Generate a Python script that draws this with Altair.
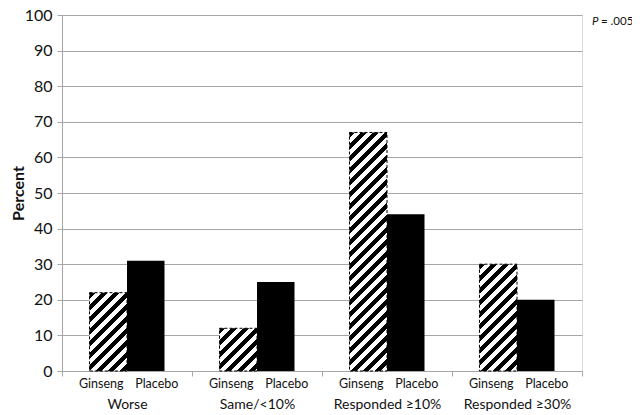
import altair as alt
import pandas as pd

# ---- data ----
groups = ["Worse", "Same/<10%", "Responded ≥10%", "Responded ≥30%"]
series = ["Ginseng", "Placebo"]
ginseng = [22, 12, 67, 30]
placebo = [31, 25, 44, 20]
y_ticks = [0, 10, 20, 30, 40, 50, 60, 70, 80, 90, 100]
p_italic = ["P"]
p_rest = ["= .005"]

rows = []
for g, a, b in zip(groups, ginseng, placebo):
    rows.append({"group": g, "series": "Ginseng", "value": a})
    rows.append({"group": g, "series": "Placebo", "value": b})
df = pd.DataFrame(rows)

# ---- style ----
W, H = 520, 356
FONT = "Lato"
STEP = W / len(groups)
PAD_OUT = 0.733
BAR_W = STEP / (2 + 2 * PAD_OUT)
PERIOD = 12.0
BLACK_FRAC = 0.5
AXIS_GRAY = "#a6a6a6"


def stripes(v):
    """Diagonal '/' hatch as a hard-stop linear gradient in bbox units."""
    h = v / 100 * H
    span = BAR_W + h
    n = span / PERIOD
    s = span / (BAR_W ** 2 + h ** 2)
    stops = []
    k = 0
    while k < n:
        t0 = min(k / n, 1)
        t1 = min((k + BLACK_FRAC) / n, 1)
        t2 = min((k + 1) / n, 1)
        stops += [(t0, "black"), (t1, "black"), (t1, "white"), (t2, "white")]
        k += 1
    return alt.LinearGradient(
        gradient="linear", x1=0, y1=0, x2=s * BAR_W, y2=s * h,
        stops=[alt.GradientStop(offset=o, color=c) for o, c in stops],
    )


x_enc = alt.X(
    "group:N", sort=groups,
    scale=alt.Scale(domain=groups, paddingInner=0, paddingOuter=0),
    axis=alt.Axis(
        title=None, grid=False, tickBand="extent", ticks=True, tickSize=5,
        tickColor=AXIS_GRAY, domainColor=AXIS_GRAY, labelFont=FONT,
        labelFontSize=14, labelColor="#111", labelPadding=28,
        labelBaseline="middle", labelAngle=0,
    ),
)
xo_enc = alt.XOffset(
    "series:N", sort=series,
    scale=alt.Scale(domain=series, paddingInner=0, paddingOuter=PAD_OUT),
)
y_enc = alt.Y(
    "value:Q",
    scale=alt.Scale(domain=[0, 100], nice=False),
    axis=alt.Axis(
        values=y_ticks, title="Percent", grid=True, gridColor=AXIS_GRAY,
        domainColor=AXIS_GRAY, tickColor=AXIS_GRAY, tickSize=5,
        labelFont=FONT, labelFontSize=16, labelColor="#111", labelPadding=5,
        titleFont=FONT, titleFontSize=16, titleFontWeight="bold",
        titleColor="#111", titleX=-44, titleY=H / 2, titleBaseline="middle",
        titleAngle=270,
    ),
)

base = alt.Chart(df).encode(x=x_enc, xOffset=xo_enc, y=y_enc)

layers = [
    base.mark_bar(fill="black").transform_filter(alt.datum.series == "Placebo")
]
for g, v in zip(groups, ginseng):
    layers.append(
        base.mark_bar(
            fill=stripes(v), stroke="black", strokeDash=[3, 2], strokeWidth=1
        ).transform_filter(
            (alt.datum.series == "Ginseng") & (alt.datum.group == g)
        )
    )

for sname, dx in [("Ginseng", -7), ("Placebo", 11)]:
    layers.append(
        alt.Chart(df).mark_text(
            font=FONT, fontSize=12.5, color="#111", dx=dx, baseline="middle"
        ).encode(
            x=x_enc, xOffset=xo_enc, y=alt.value(H + 13), text="series:N"
        ).transform_filter(alt.datum.series == sname)
    )

pdf1 = pd.DataFrame({"t": p_italic})
pdf2 = pd.DataFrame({"t": p_rest})
layers.append(
    alt.Chart(pdf1).mark_text(
        font=FONT, fontSize=11.5, fontStyle="italic", color="#111",
        align="left", baseline="middle"
    ).encode(x=alt.value(W + 10), y=alt.value(7), text="t:N")
)
layers.append(
    alt.Chart(pdf2).mark_text(
        font=FONT, fontSize=11.5, color="#111", align="left", baseline="middle"
    ).encode(x=alt.value(W + 19), y=alt.value(7), text="t:N")
)

chart = alt.layer(*layers).properties(
    width=W, height=H,
    padding={"left": 54, "top": 7, "right": 50, "bottom": 40},
    autosize=alt.AutoSizeParams(type="none"),
).configure_view(stroke=None).configure(background="white")

chart.save("out.html", embed_options={"renderer": "svg", "actions": False})
